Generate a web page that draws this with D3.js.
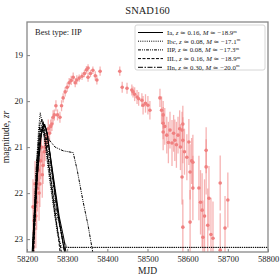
<!DOCTYPE html>
<html>
<head>
<meta charset="utf-8">
<title>SNAD160</title>
<script src="https://d3js.org/d3.v7.min.js"></script>
<style>
body { margin: 0; background: #fff; }
text { font-family: "Liberation Serif", "DejaVu Serif", serif; }
</style>
</head>
<body>
<script>
// observations: mjd, magnitude, error
var obsMjd = [58215, 58218, 58220, 58222, 58224, 58226, 58228, 58230, 58232, 58234, 58236, 58238, 58240, 58243, 58245, 58248, 58250, 58253, 58256, 58259, 58262, 58265, 58268, 58272, 58276, 58282, 58286, 58290, 58295, 58300, 58305, 58310, 58315, 58320, 58324, 58330, 58337, 58343, 58348, 58352, 58352, 58358, 58364, 58370, 58374, 58382, 58431, 58437, 58449, 58461, 58464, 58468, 58474, 58478, 58486, 58489, 58495, 58501, 58506, 58531, 58535, 58539, 58539, 58539, 58543, 58548, 58552, 58556, 58561, 58565, 58568, 58572, 58576, 58580, 58582, 58586, 58588, 58588, 58586, 58588, 58592, 58598, 58603, 58606, 58606, 58610, 58613, 58613, 58628, 58632, 58636, 58638, 58642, 58646, 58646, 58650, 58653, 58658, 58663, 58681, 58681, 58693, 58700];
var obsMag = [22.3, 22.6, 21.8, 22.5, 22.2, 21.9, 21.5, 22.0, 21.8, 21.3, 21.0, 21.6, 21.4, 21.1, 21.0, 20.9, 20.8, 20.6, 20.7, 20.55, 20.5, 20.35, 20.3, 20.1, 20.3, 20.35, 20.1, 19.93, 19.8, 19.7, 19.6, 19.55, 19.48, 19.6, 19.54, 19.5, 19.46, 19.4, 19.32, 19.28, 19.48, 19.4, 19.33, 19.45, 19.54, 19.35, 19.35, 19.7, 19.72, 19.76, 19.8, 19.85, 19.91, 19.95, 19.98, 20.09, 20.05, 20.09, 20.2, 19.93, 20.2, 20.3, 20.48, 20.67, 20.55, 20.74, 20.9, 20.63, 20.91, 20.7, 20.85, 20.95, 20.74, 20.6, 21.0, 20.63, 20.5, 20.85, 21.65, 22.74, 21.1, 21.22, 20.89, 21.54, 22.63, 21.3, 21.33, 21.89, 21.89, 22.2, 22.37, 22.96, 22.5, 21.07, 21.43, 22.7, 22.11, 22.9, 22.98, 21.78, 23.24, 22.76, 22.15];
var obsErr = [0.6, 0.7, 0.5, 0.7, 0.6, 0.5, 0.4, 0.6, 0.5, 0.4, 0.3, 0.5, 0.4, 0.3, 0.3, 0.2, 0.2, 0.2, 0.2, 0.15, 0.15, 0.15, 0.12, 0.12, 0.12, 0.12, 0.12, 0.1, 0.1, 0.1, 0.1, 0.1, 0.1, 0.1, 0.1, 0.08, 0.08, 0.08, 0.08, 0.08, 0.1, 0.08, 0.08, 0.1, 0.1, 0.1, 0.1, 0.12, 0.12, 0.12, 0.12, 0.15, 0.15, 0.15, 0.15, 0.2, 0.2, 0.2, 0.2, 0.2, 0.3, 0.3, 0.35, 0.4, 0.4, 0.4, 0.45, 0.4, 0.5, 0.4, 0.45, 0.5, 0.4, 0.4, 0.5, 0.4, 0.4, 0.5, 0.6, 0.6, 0.5, 0.5, 0.5, 0.6, 0.7, 0.5, 0.6, 0.7, 0.7, 0.7, 0.8, 0.8, 0.8, 0.5, 0.6, 0.8, 0.7, 0.8, 0.8, 0.6, 0.8, 0.7, 0.6];

// model curves: [mjd, magnitude]
var iaCurves = [
  [[58212, 23.4], [58222, 21.9], [58230, 21.0], [58238, 20.6], [58244, 20.5], [58250, 20.7], [58260, 21.3], [58270, 21.9], [58280, 22.5], [58292, 23.0], [58299, 23.4]],
  [[58214, 23.4], [58226, 21.6], [58236, 20.7], [58242, 20.5], [58248, 20.6], [58258, 21.2], [58270, 22.0], [58284, 22.8], [58296, 23.4]]
];
var ibcCurves = [
  [[58213, 23.4], [58222, 21.6], [58229, 20.6], [58233, 20.25], [58238, 20.5], [58246, 21.0], [58256, 21.7], [58266, 22.3], [58276, 22.9], [58286, 23.18], [58800, 23.18]],
  [[58215, 23.4], [58225, 21.4], [58232, 20.5], [58237, 20.4], [58245, 20.8], [58258, 21.6], [58272, 22.4], [58290, 23.0], [58300, 23.18], [58800, 23.18]]
];
var iipCurves = [
  [[58213, 23.4], [58224, 21.3], [58232, 20.5], [58238, 20.4], [58246, 20.6], [58256, 20.85], [58270, 21.0], [58290, 21.08], [58315, 21.12], [58325, 21.5], [58340, 22.2], [58352, 22.7], [58366, 23.4]],
  [[58215, 23.4], [58226, 21.2], [58234, 20.6], [58240, 20.45], [58250, 20.9], [58262, 21.6], [58275, 22.4], [58288, 23.0], [58296, 23.4]]
];
var iilCurves = [
  [[58213, 23.4], [58224, 21.5], [58232, 20.7], [58238, 20.55], [58246, 20.9], [58258, 21.7], [58270, 22.5], [58282, 23.1], [58288, 23.4]],
  [[58216, 23.4], [58227, 21.3], [58236, 20.6], [58242, 20.6], [58252, 21.2], [58264, 22.0], [58276, 22.8], [58284, 23.4]]
];
var iinCurves = [
  [[58214, 23.4], [58225, 21.7], [58234, 20.8], [58242, 20.5], [58250, 20.7], [58262, 21.5], [58276, 22.4], [58290, 23.1], [58297, 23.4]]
];

var modelNames = ["Ia", "Ibc", "IIP", "IIL", "IIn"];
var modelZ = ["0.16", "0.08", "0.08", "0.16", "0.30"];
var modelM = ["18.9", "17.1", "17.3", "18.9", "20.0"];
var modelDash = ["none", "1,1.2", "3,1,1,1,1,1", "3,1.5", "5,1.5,1.5,1.5"];
var modelCurves = [iaCurves, ibcCurves, iipCurves, iilCurves, iinCurves];

var xTicks = [58200, 58300, 58400, 58500, 58600, 58700, 58800];
var yTicks = [19, 20, 21, 22, 23];

var W = 280, H = 280;
var pL = 27, pR = 268, pT = 22, pB = 252;

var svg = d3.select("body").append("svg").attr("width", W).attr("height", H);

var x = d3.scaleLinear().domain([58200, 58800]).range([pL, pR]);
var y = d3.scaleLinear().domain([18.28, 23.28]).range([pT, pB]);

svg.append("defs").append("clipPath").attr("id", "clip")
  .append("rect").attr("x", pL).attr("y", pT).attr("width", pR - pL).attr("height", pB - pT);

var plot = svg.append("g").attr("clip-path", "url(#clip)");

// error bars
var obs = obsMjd.map(function(d, i) { return {t: d, m: obsMag[i], e: obsErr[i]}; });
plot.selectAll(".err").data(obs).enter().append("line")
  .attr("x1", function(d) { return x(d.t); }).attr("x2", function(d) { return x(d.t); })
  .attr("y1", function(d) { return y(d.m - d.e); }).attr("y2", function(d) { return y(d.m + d.e); })
  .attr("stroke", "#f08080").attr("stroke-opacity", 0.6).attr("stroke-width", 1.3);
plot.selectAll(".pt").data(obs).enter().append("circle")
  .attr("cx", function(d) { return x(d.t); }).attr("cy", function(d) { return y(d.m); })
  .attr("r", 1.8).attr("fill", "#f08080");

// models
var line = d3.line().x(function(d) { return x(d[0]); }).y(function(d) { return y(d[1]); });
modelCurves.forEach(function(curves, k) {
  curves.forEach(function(c) {
    plot.append("path").attr("d", line(c)).attr("fill", "none")
      .attr("stroke", "black").attr("stroke-width", 1)
      .attr("stroke-dasharray", modelDash[k]);
  });
});

// axes
var xAxis = d3.axisBottom(x).tickValues(xTicks).tickSize(-3).tickPadding(4).tickFormat(d3.format("d"));
var yAxis = d3.axisLeft(y).tickValues(yTicks).tickSize(-3).tickPadding(4).tickFormat(d3.format("d"));
var xg = svg.append("g").attr("transform", "translate(0," + pB + ")").call(xAxis);
var yg = svg.append("g").attr("transform", "translate(" + pL + ",0)").call(yAxis);
[xg, yg].forEach(function(g) {
  g.select(".domain").remove();
  g.selectAll("line").attr("stroke", "#333").attr("stroke-width", 0.6);
  g.selectAll("text").attr("font-family", "Liberation Serif").attr("font-size", 8.5).attr("fill", "#222");
});

// frame
svg.append("rect").attr("x", pL).attr("y", pT).attr("width", pR - pL).attr("height", pB - pT)
  .attr("fill", "none").attr("stroke", "#888").attr("stroke-width", 1.3);

svg.append("text").attr("x", (pL + pR) / 2).attr("y", 14).attr("text-anchor", "middle")
  .attr("font-size", 10.5).attr("fill", "#222").text("SNAD160");
svg.append("text").attr("x", (pL + pR) / 2).attr("y", 274).attr("text-anchor", "middle")
  .attr("font-size", 9.5).attr("fill", "#222").text("MJD");
var yl = svg.append("text").attr("transform", "translate(9," + ((pT + pB) / 2) + ") rotate(-90)")
  .attr("text-anchor", "middle").attr("font-size", 9.5).attr("fill", "#222");
yl.append("tspan").text("magnitude, ");
yl.append("tspan").attr("font-style", "italic").text("zr");

svg.append("text").attr("x", 35).attr("y", 35).attr("font-size", 8.5).attr("fill", "#222").text("Best type: IIP");

// legend
var lg = svg.append("g");
lg.append("rect").attr("x", 135).attr("y", 25).attr("width", 130).attr("height", 45).attr("rx", 2)
  .attr("fill", "white").attr("fill-opacity", 0.85).attr("stroke", "#ccc").attr("stroke-width", 0.8);
modelNames.forEach(function(n, i) {
  var yy = 32.5 + i * 8.7;
  lg.append("line").attr("x1", 138).attr("x2", 163).attr("y1", yy).attr("y2", yy)
    .attr("stroke", "black").attr("stroke-width", 1).attr("stroke-dasharray", modelDash[i]);
  var t = lg.append("text").attr("x", 167).attr("y", yy + 2.5).attr("font-size", 6.8).attr("fill", "#222");
  t.append("tspan").text(n + ", ");
  t.append("tspan").attr("font-style", "italic").text("z");
  t.append("tspan").text(" \u2243 " + modelZ[i] + ", ");
  t.append("tspan").attr("font-style", "italic").text("M");
  t.append("tspan").text(" \u2243 \u2212" + modelM[i]);
  t.append("tspan").attr("font-size", 4.5).attr("dy", -2.5).text("m");
});
</script>
</body>
</html>
